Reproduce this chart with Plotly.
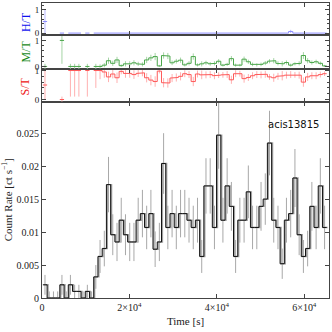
import numpy as np
import plotly.graph_objects as go

# binned light curve, 67 bins
t_start = 200.0
bin_width = 969.0
rate = [0.0020, 0, 0, 0, 0.0020, 0, 0.0020, 0.0010, 0.0010, 0,
        0.0010, 0, 0.0032, 0.0063, 0.0075, 0.0172, 0.0096, 0.0085, 0.0118, 0.0096,
        0.0085, 0.0085, 0.0118, 0.0128, 0.0107, 0.0128, 0.0074, 0.0085, 0.0204, 0.0107,
        0.0128, 0.0107, 0.0128, 0.0128, 0.0118, 0.0107, 0.0118, 0.0063, 0.0170, 0.0170,
        0.0107, 0.0247, 0.0118, 0.0170, 0.0139, 0.0063, 0.0118, 0.0118, 0.0161, 0.0107,
        0.0107, 0.0139, 0.0150, 0.0235, 0.0118, 0.0107, 0.0052, 0.0118, 0.0128, 0.0182,
        0.0096, 0.0063, 0.0075, 0.0139, 0.0107, 0.0170, 0.0107]
rate_err = [0.0015, 0.0010, 0.0010, 0.0010, 0.0015, 0.0010, 0.0015, 0.0010, 0.0010, 0.0010,
            0.0010, 0.0010, 0.0018, 0.0025, 0.0027, 0.0042, 0.0031, 0.0029, 0.0034, 0.0031,
            0.0029, 0.0029, 0.0034, 0.0036, 0.0033, 0.0036, 0.0027, 0.0029, 0.0046, 0.0033,
            0.0036, 0.0033, 0.0036, 0.0036, 0.0034, 0.0033, 0.0034, 0.0025, 0.0042, 0.0042,
            0.0033, 0.0051, 0.0034, 0.0042, 0.0037, 0.0025, 0.0034, 0.0034, 0.0040, 0.0033,
            0.0033, 0.0037, 0.0039, 0.0049, 0.0034, 0.0033, 0.0023, 0.0034, 0.0036, 0.0044,
            0.0031, 0.0025, 0.0027, 0.0037, 0.0033, 0.0042, 0.0033]

N = None
hard = [0.5, N, N, N, 0, N, 0, 0, 0, N, 0, N, 0, 0, 0, 0, 0, 0, 0, 0,
        0, 0, 0, 0, 0, 0, 0, 0, 0, 0, 0, 0, 0, 0, 0, 0, 0, 0, 0, 0,
        0, 0, 0, 0, 0, 0, 0, 0, 0, 0, 0, 0, 0, 0, 0, 0, 0, 0, 0.07, 0,
        0, 0, 0, 0, 0, 0, 0]
hard_err = [0.5, N, N, N, 0, N, 0, 0, 0, N, 0, N, 0, 0, 0, 0, 0, 0, 0, 0,
            0, 0, 0, 0, 0, 0, 0, 0, 0, 0, 0, 0, 0, 0, 0, 0, 0, 0, 0, 0,
            0, 0, 0, 0, 0, 0, 0, 0, 0, 0, 0, 0, 0, 0, 0, 0, 0, 0, 0.07, 0,
            0, 0, 0, 0, 0, 0, 0]
medium = [0, N, N, N, 1.0, N, 0, 0, 0, N, 0, N, 0, 0, 0.05, 0.22, 0.12, 0.25, 0.03, 0.10,
          0.10, 0.14, 0.10, 0.08, 0.25, 0.33, 0.38, 0.02, 0.42, 0.40, 0.14, 0.20, 0.24, 0.06,
          0.12, 0.38, 0.06, 0.10, 0.14, 0.10, 0.12, 0.20, 0.05, 0.08, 0.30, 0.05, 0.05, 0.28,
          0.18, 0.08, 0.06, 0.08, 0.13, 0.20, 0.22, 0.12, 0.10, 0.15, 0.05, 0.10, 0.12, 0.42,
          0.22, 0.15, 0.18, 0.12, 0.02]
medium_err = [0.1, N, N, N, 0.9, N, 0.1, 0.1, 0.1, N, 0.1, N, 0.1, 0.08, 0.08, 0.12, 0.1, 0.12, 0.05, 0.1,
              0.1, 0.1, 0.08, 0.08, 0.12, 0.12, 0.14, 0.04, 0.12, 0.12, 0.09, 0.09, 0.1, 0.06,
              0.08, 0.12, 0.06, 0.1, 0.08, 0.07, 0.08, 0.08, 0.05, 0.06, 0.1, 0.06, 0.05, 0.1,
              0.08, 0.07, 0.06, 0.07, 0.08, 0.08, 0.1, 0.08, 0.1, 0.08, 0.06, 0.06, 0.08, 0.13,
              0.1, 0.08, 0.08, 0.07, 0.04]
soft = [0.5, N, N, N, 0, N, 1.0, 1.0, 1.0, N, 1.0, N, 1.0, 1.0, 0.95, 0.78, 0.88, 0.75, 0.97, 0.90,
        0.90, 0.86, 0.90, 0.92, 0.75, 0.67, 0.62, 0.98, 0.58, 0.57, 0.74, 0.76, 0.80, 0.89,
        0.86, 0.62, 0.88, 0.85, 0.85, 0.86, 0.82, 0.84, 0.85, 0.86, 0.68, 0.89, 0.89, 0.72,
        0.76, 0.82, 0.86, 0.85, 0.87, 0.78, 0.75, 0.80, 0.82, 0.84, 0.86, 0.85, 0.84, 0.60,
        0.78, 0.82, 0.82, 0.86, 0.89]
soft_err = [0.5, N, N, N, 0.1, N, 0.9, 0.9, 0.9, N, 0.9, N, 0.6, 0.3, 0.2, 0.18, 0.15, 0.18, 0.1, 0.15,
            0.15, 0.15, 0.12, 0.12, 0.16, 0.18, 0.18, 0.08, 0.16, 0.16, 0.14, 0.14, 0.14, 0.12,
            0.12, 0.16, 0.12, 0.15, 0.12, 0.12, 0.12, 0.1, 0.1, 0.12, 0.14, 0.12, 0.1, 0.14,
            0.12, 0.12, 0.12, 0.12, 0.12, 0.1, 0.14, 0.12, 0.16, 0.12, 0.12, 0.1, 0.12, 0.16,
            0.14, 0.12, 0.12, 0.1, 0.08]

obs_label = "acis13815"
x_tickvals = [0, 20000, 40000, 60000]
x_ticktext = ["0", "2×10<sup>4</sup>", "4×10<sup>4</sup>", "6×10<sup>4</sup>"]

nb = len(rate)
edges = t_start + bin_width * np.arange(nb + 1)
centers = 0.5 * (edges[:-1] + edges[1:])


def steps(vals):
    # hv step: repeat the last value so the final bin is closed
    return list(edges), list(vals) + [vals[-1]]


serif = "Liberation Serif, DejaVu Serif, serif"
axcol = "#444"
fig = go.Figure()

# main light curve: gray shadow, black step, gray error bars
sx, sy = steps(rate)
fig.add_trace(go.Scatter(x=[v + 0.22 * bin_width for v in sx], y=sy, mode="lines",
                         line=dict(color="#a0a0a0", width=1.4, shape="hv"),
                         xaxis="x", yaxis="y", hoverinfo="skip"))
fig.add_trace(go.Scatter(x=centers, y=rate, mode="markers",
                         marker=dict(size=1, color="rgba(0,0,0,0)"),
                         error_y=dict(type="data", array=rate_err, color="#a8a8a8",
                                      thickness=1, width=0),
                         xaxis="x", yaxis="y"))
fig.add_trace(go.Scatter(x=sx, y=sy, mode="lines",
                         line=dict(color="#111", width=1.0, shape="hv"),
                         xaxis="x", yaxis="y"))

panels = [(hard, hard_err, "#8c8cff", "#b8b8ff", "y4", "x4"),
          (medium, medium_err, "#4aa64a", "#a4d4a4", "y3", "x3"),
          (soft, soft_err, "#ff5a5a", "#ffb0b0", "y2", "x2")]
for vals, errs, lc, ec, ya, xa in panels:
    fig.add_trace(go.Scatter(x=centers, y=vals, mode="markers",
                             marker=dict(size=1, color="rgba(0,0,0,0)"),
                             error_y=dict(type="data", array=errs, color=ec,
                                          thickness=1, width=0),
                             xaxis=xa, yaxis=ya))
    # break the step at empty bins
    px, py = [], []
    for i, v in enumerate(vals):
        if v is None:
            px += [edges[i]]
            py += [None]
        else:
            px += [edges[i], edges[i + 1]]
            py += [v, v]
    fig.add_trace(go.Scatter(x=px, y=py, mode="lines", connectgaps=False,
                             line=dict(color=lc, width=1),
                             xaxis=xa, yaxis=ya))

xr = [0, 65650]
common_x = dict(range=xr, showline=True, mirror="ticks", linecolor=axcol, linewidth=1,
                ticks="inside", ticklen=4, tickcolor=axcol, tickvals=x_tickvals,
                showgrid=False, zeroline=False, automargin=False)
common_y = dict(showline=True, mirror="ticks", linecolor=axcol, linewidth=1,
                ticks="inside", ticklen=4, tickcolor=axcol, showgrid=False, zeroline=False,
                automargin=False, tickfont=dict(family=serif, size=10, color="#222"))

top_y = dict(common_y, tickvals=[0, 1], ticktext=["0", "1"],
             tickfont=dict(family=serif, size=9, color="#222"),
             minor=dict(ticks="inside", ticklen=2, dtick=0.2, tickcolor=axcol))

# ratio panel labels, placed to the left of the tick labels
side_labels = [("H/T", "#1111ee", 0.935), ("M/T", "#1a8a1a", 0.835), ("S/T", "#ee1111", 0.717)]
annots = [dict(text=obs_label, x=0.878, y=0.0263, xref="paper", yref="y",
               showarrow=False, xanchor="center", yanchor="middle",
               font=dict(family="DejaVu Sans, sans-serif", size=10, color="#111"))]
for txt, col, yc in side_labels:
    annots.append(dict(text=txt, x=-0.056, y=yc, xref="paper", yref="paper",
                       textangle=-90, showarrow=False, xanchor="center", yanchor="middle",
                       font=dict(family=serif, size=12, color=col)))

fig.update_layout(
    width=332, height=332,
    margin=dict(l=42, r=3, t=3, b=34),
    plot_bgcolor="white", paper_bgcolor="white",
    showlegend=False,
    xaxis=dict(common_x, domain=[0, 1], ticktext=x_ticktext, anchor="y",
               tickfont=dict(family=serif, size=10, color="#222"),
               title=dict(text="Time [s]", font=dict(family=serif, size=11, color="#222"),
                          standoff=5)),
    yaxis=dict(common_y, domain=[0, 0.666], range=[0, 0.0298], anchor="x",
               tickvals=[0, 0.005, 0.01, 0.015, 0.02, 0.025],
               ticktext=["0", "0.005", "0.01", "0.015", "0.02", "0.025"],
               title=dict(text="Count Rate [ct s<sup>−1</sup>]",
                          font=dict(family=serif, size=11, color="#222"), standoff=4)),
    xaxis2=dict(common_x, matches="x", showticklabels=False, anchor="y2"),
    yaxis2=dict(top_y, domain=[0.666, 0.777], range=[-0.07, 1.06], anchor="x2"),
    xaxis3=dict(common_x, matches="x", showticklabels=False, anchor="y3"),
    yaxis3=dict(top_y, domain=[0.777, 0.8925], range=[-0.09, 1.22], anchor="x3"),
    xaxis4=dict(common_x, matches="x", showticklabels=False, anchor="y4"),
    yaxis4=dict(top_y, domain=[0.8925, 1.0], range=[-0.07, 1.3], anchor="x4"),
    annotations=annots,
)

# the page's default body margin would shift the figure by 8 px
fig.write_html("out.html", config={"displayModeBar": False},
               post_script="document.body.style.margin='0';")
